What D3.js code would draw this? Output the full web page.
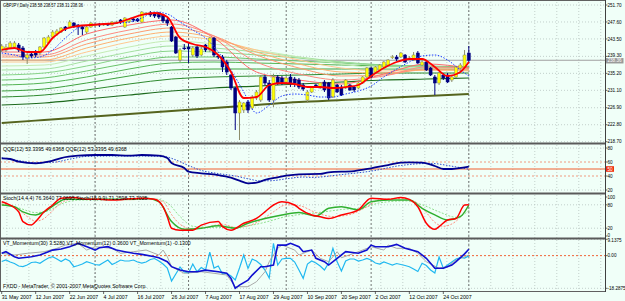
<!DOCTYPE html>
<html><head><meta charset="utf-8">
<script src="https://cdn.jsdelivr.net/npm/d3@7"></script>
<style>body{margin:0;background:#f0fff8}svg{display:block}text{font-family:"Liberation Sans",Arial,sans-serif}</style>
</head><body><svg id="c" width="625" height="301"></svg>
<script>
// ---------------- DATA ----------------
const dateLabels=["31 May 2007","12 Jun 2007","22 Jun 2007","4 Jul 2007","16 Jul 2007","26 Jul 2007","7 Aug 2007","17 Aug 2007","29 Aug 2007","10 Sep 2007","20 Sep 2007","2 Oct 2007","12 Oct 2007","24 Oct 2007"];
const dateLabelBars=[0,8,16,24,32,40,48,56,64,72,80,88,96,104];
const monthStartBars=[22,44,67,87,110];
const priceTicks=[251.70,247.60,243.50,239.30,235.20,231.10,226.90,222.80,218.70];
const lastPrice=238.36;
const openP=[240.84,240.84,241.32,241.56,242.04,241.32,238.90,239.87,240.11,240.11,241.56,242.53,243.97,244.70,245.18,246.39,246.39,247.35,246.87,246.39,245.18,246.39,246.87,247.11,246.87,247.11,246.87,247.35,248.08,246.39,247.60,248.32,248.32,247.60,249.53,249.77,249.53,249.77,249.29,248.08,246.39,243.97,238.42,241.32,241.56,239.63,241.56,239.63,242.04,240.84,243.73,239.39,239.15,237.94,234.80,231.66,225.63,226.35,228.28,226.83,229.25,228.76,234.32,232.87,228.76,234.32,234.08,233.11,234.32,233.83,233.59,232.39,228.76,230.70,232.39,231.66,233.11,232.87,229.49,232.39,231.90,231.66,232.39,231.90,231.66,232.87,234.32,236.49,235.52,236.01,236.73,237.21,239.15,239.15,239.15,239.63,238.90,238.42,240.11,237.21,237.94,236.49,234.32,232.87,234.80,234.80,233.59,234.32,236.49,236.73,240.11];
const highP=[242.28,242.28,243.01,243.01,242.53,241.80,240.11,240.35,240.84,241.80,243.97,244.46,245.66,245.91,246.39,246.63,248.08,247.60,247.11,246.63,246.63,247.60,247.11,247.35,247.35,247.35,247.84,247.84,248.32,248.80,248.32,248.56,248.56,250.25,250.01,250.25,249.77,250.01,249.53,248.56,246.63,244.22,241.32,242.28,242.53,241.80,241.80,241.56,242.28,243.97,243.97,239.63,239.63,238.42,235.04,231.90,228.76,228.28,228.76,229.97,231.18,234.80,234.80,233.59,235.04,234.80,234.56,234.56,235.04,234.32,234.08,232.87,231.18,232.14,232.63,233.11,233.59,233.11,234.08,232.63,232.39,233.83,232.63,232.14,233.11,234.56,236.73,236.73,236.97,237.46,238.18,238.66,239.63,239.63,240.35,239.87,239.39,240.35,240.59,238.90,238.42,236.73,234.80,235.52,235.28,235.28,234.56,236.97,237.70,240.84,241.80];
const lowP=[240.35,240.35,241.08,241.32,240.35,238.42,237.46,238.90,239.15,239.63,241.32,242.28,243.73,244.22,244.94,245.42,246.15,246.15,244.46,244.46,244.70,246.15,246.63,246.39,246.63,246.63,246.63,247.11,247.11,246.15,247.35,247.60,247.60,247.35,249.29,248.80,248.56,248.32,247.35,246.63,242.77,239.87,237.94,240.84,237.70,239.15,238.90,239.39,240.35,240.35,239.15,238.66,235.52,234.80,231.18,221.52,219.11,225.63,225.63,226.35,228.76,228.28,232.39,228.28,227.07,232.39,232.39,232.63,231.90,231.90,231.42,230.94,228.04,230.45,231.66,231.42,230.70,228.76,229.25,230.45,229.73,231.42,230.94,230.70,231.42,232.63,234.08,234.08,235.28,235.77,236.49,236.97,238.66,238.18,238.90,237.70,238.42,238.18,237.46,236.97,235.77,234.56,229.97,232.39,233.59,232.87,233.11,234.08,236.25,236.49,237.70];
const closeP=[241.80,241.56,242.53,242.53,240.84,239.15,239.63,239.39,239.63,241.56,243.73,243.97,245.18,245.42,246.15,245.91,247.60,246.63,246.39,245.91,246.39,247.35,246.90,246.87,247.11,246.87,247.60,247.60,247.60,248.56,248.08,248.08,247.84,250.01,249.77,249.29,249.04,248.80,247.84,247.35,243.01,240.11,240.84,241.30,241.08,241.32,239.39,241.08,240.84,243.73,239.63,239.15,236.73,235.52,231.66,225.63,228.28,228.04,226.35,229.49,230.70,234.32,232.87,228.76,234.32,232.87,233.11,234.08,232.87,232.87,231.90,231.42,230.70,231.90,231.90,232.87,231.18,229.25,233.59,230.70,229.97,233.59,231.18,231.18,232.87,234.32,236.49,234.32,236.73,237.21,237.94,238.42,239.17,238.66,240.11,237.94,238.92,239.63,237.70,237.94,236.01,234.80,232.87,235.28,234.08,233.11,234.32,236.73,237.21,239.63,238.36];

// moving-average ribbon, read at every 10th bar
const maBars=[0,10,20,30,40,50,60,70,80,90,100,110];
const ma2=[240.35,240.35,244.70,246.87,248.08,243.73,235.52,233.59,232.63,235.04,237.46,236.49];
const ma3=[239.63,239.63,243.25,245.66,247.11,244.22,237.94,235.04,233.59,234.56,236.73,236.49];
const ma4=[239.15,239.15,242.28,244.70,246.15,244.22,239.63,236.49,234.56,234.80,236.25,236.25];
const ma5=[238.42,238.42,241.32,243.73,245.18,243.73,240.35,237.46,235.52,235.28,236.01,236.01];
const ma6=[237.94,237.94,240.35,242.77,244.22,243.25,240.84,238.42,236.49,235.77,236.01,235.77];
const ma7=[236.97,237.21,239.39,241.56,243.01,242.28,240.84,239.15,237.46,236.49,236.49,236.01];
const ma8=[236.01,236.25,238.18,240.35,241.80,241.32,240.35,239.15,237.94,236.97,236.73,236.25];
const ma9=[234.80,235.28,236.97,239.15,240.59,240.35,239.63,238.90,237.94,237.21,236.97,236.49];
const ma10=[233.59,234.08,235.77,237.70,239.15,239.15,238.66,238.18,237.70,237.21,236.97,236.73];
const ma11=[232.39,232.87,234.32,236.25,237.70,237.94,237.70,237.46,237.21,236.97,236.73,236.73];
const ma12=[230.94,231.42,232.87,234.56,236.01,236.25,236.25,236.25,236.25,236.25,236.25,236.01];
const ma13=[229.49,229.97,231.18,232.63,233.83,234.32,234.56,234.80,235.04,235.28,235.28,235.28];
const ma14=[227.56,228.04,229.01,229.97,230.94,231.66,232.14,232.63,233.11,233.59,233.83,234.08];
const ma15=[223.21,223.94,224.66,225.39,226.11,226.83,227.56,228.28,228.76,229.25,229.73,230.21];
// fast red average and blue dotted average, read at every 3rd bar
const fastBars=[0,3,6,9,12,15,18,21,24,27,30,33,36,39,42,45,48,51,54,57,60,63,66,69,72,75,78,81,84,87,90,93,96,99,102,105,108,110];
const fastMA=[240.84,241.32,240.35,240.35,243.73,245.91,246.63,246.87,247.11,247.35,248.32,249.29,249.77,248.80,243.73,242.28,241.56,239.63,235.52,229.25,229.49,232.39,232.87,232.63,231.90,231.90,231.66,231.90,232.39,234.56,236.49,237.94,238.66,238.66,236.73,234.56,235.52,237.94];
const dotMA=[240.11,239.63,238.90,239.15,240.84,243.73,246.15,246.87,247.11,247.35,247.60,248.56,250.01,249.53,247.60,245.66,243.73,240.35,236.01,230.70,225.63,227.50,229.73,230.21,229.97,229.49,229.49,230.21,230.94,232.14,234.32,236.25,237.94,239.39,239.63,238.42,236.01,234.56];

// QQE
const qqeBars=[0,2,4,8,11,14,18,22,26,30,33,37,39,40,43,44,47,51,54,56,58,60,62,65,67,70,75,77,83,87,91,94,96,99,102,104,106,109,110];
const qqeMain=[65.3,64.3,60.4,58.1,60.4,65.7,69,70,70,69,70,69,65.7,58.6,51.4,46.1,43.9,41.4,37.6,33.3,29.6,30.4,34.3,38.1,40.4,42.4,42.9,45.3,47.1,51,55.7,59,59.6,59,54.3,50,50,52.4,53.34];
const qqeSigBars=[0,4,8,12,16,20,26,32,38,41,44,47,51,55,58,61,64,67,71,73,80,87,94,101,106,110];
const qqeSignal=[66,62,59,59.5,64,68,68.5,68.5,68,63,55,48,43.5,40,36,33,33.5,36,38.5,38,42,47,55,58,54,49.64];

// Stochastics
const stFastBars=[0,1,4,5,7,8,10,12,14,17,20,23,26,29,33,36,38,39,40,42,45,47,51,52,54,57,60,62,64,66,69,70,73,75,77,80,84,87,91,94,96,98,100,102,103,105,107,109,110];
const stFast=[88,84,62,37,28,37,62,79.5,97,99,94,94,92,94,97,94,75,49.5,20,15,15,28,37,24,15,32.6,45,62,79.5,88,79.5,71,54,49.5,45,54,67,97,94,99,94,75,32.6,17,24,41,45,79.5,80];
const stFastSigBars=[0,3,6,8,10,12,14,17,22,30,35,38,40,42,45,48,52,55,58,61,64,67,70,74,78,82,86,89,94,97,100,102,104,107,110];
const stFastSig=[82,75,50,38,45,65,85,95,94,93,95,88,55,30,18,22,30,22,26,40,62,80,78,60,50,55,75,93,96,90,60,35,25,38,77];
const stSlowBars=[0,3,5,8,10,13,15,20,30,34,37,40,43,47,51,55,58,62,66,70,74,77,80,84,87,91,96,99,102,105,108,110];
const stSlow=[79.5,75,62,54,62,84,94,94,94,97,88,37,17,20,26,20,32.6,45,54,60,51,71,75,67,88,92,92,71,54,41,49.5,79.5];
const stSlowSigBars=[0,4,8,11,14,18,30,36,39,42,45,50,55,59,63,67,71,76,80,85,89,95,99,103,107,110];
const stSlowSig=[82,72,60,65,82,92,93,95,85,50,25,22,22,28,38,50,56,62,68,72,85,90,80,62,48,65];

// VT momentum
const vt30Bars=[0,1,3,4,7,9,11,12,14,16,18,19,21,22,23,25,27,29,31,33,36,37,39,40,42,44,46,48,51,53,54,55,56,58,59,61,62,64,65,67,68,70,71,73,74,76,77,79,81,84,86,87,88,91,93,95,98,100,102,104,106,107,109,110];
const vt30=[1.3,2.2,-0.6,-1.5,-0.6,0.3,2.2,3.1,3.7,5.0,6.9,5.9,4.1,3.1,4.4,5.0,3.1,2.2,1.3,0.7,-0.6,-1.2,-3.4,-6.2,-8.1,-9.0,-9.0,-8.1,-9.0,-9.9,-12.7,-18.3,-16.5,-13.7,-10.9,-6.2,-6.2,-5.3,5.9,5.9,6.9,5.0,2.2,3.1,-1.5,-3.4,-5.3,-1.5,2.2,1.3,3.1,5.9,5.0,5.0,6.3,4.1,2.2,-1.5,-7.1,-7.1,-5.3,-3.4,1.0,3.53];
const vt12Bars=[0,3,6,10,13,15,18,20,22,26,28,31,34,37,38,39,40,43,47,50,53,55,58,60,62,63,65,66,69,70,73,75,77,79,80,83,85,87,90,91,93,96,98,100,103,105,107,109,110];
const vt12=[1.29,0.34,1.29,2.18,4.09,5.93,6.88,3.13,4.98,4.09,1.29,2.18,3.13,0.34,3.13,-0.62,-6.21,-9.9,-9.01,-9.9,-10.86,-17.4,-17.4,-14.6,-9.01,-3.41,4.09,5.93,3.13,0.34,3.13,-1.51,-3.41,2.18,-1.18,1.29,3.13,4.98,3.13,5.93,4.09,4.09,1.29,-3.41,-7.11,-6.21,-2.46,-0.62,0.36];
const vt1=[-3.3,-2.46,-3.58,-4.42,-5.82,-6.1,-5.26,-3.86,-3.58,-4.31,-2.74,-1.34,-0.62,-1.9,-3.3,-1.9,-3.02,-6.21,-5.54,-4.7,-3.41,-4.14,-4.98,-5.26,-3.86,-2.46,-4.98,-3.86,-2.46,-3.02,-3.02,-2.46,-3.58,-4.14,-3.58,-2.18,-1.62,-3.02,-4.7,-6.94,-14.21,-10.3,-6.38,-9.18,-9.74,-4.7,-9.01,-6.66,-8.06,2.01,-6.94,-5.82,-10.3,-9.9,-11.42,-13.65,-6.94,0.34,-7.11,-1.9,-3.02,-4.98,-8.06,-12.54,6.88,-5.26,-1.9,-1.51,-1.51,-3.58,-8.06,-12.7,-4.7,-3.02,-4.14,-5.82,-8.06,-4.14,4.09,-3.41,-8.62,-3.02,-1.9,-1.9,-3.02,-2.46,-1.51,-2.46,-4.14,-4.7,-3.58,-4.42,-5.26,-4.42,-4.98,-5.54,-6.21,-7.5,-8.9,-4.31,-5.54,-8.06,-9.74,-0.78,-7.11,-5.26,-3.58,-1.9,-1.06,-1.34,-0.13];

// ---------------- DRAW ----------------
const svg=d3.select("#c");
const BG="#f0fff8", R=605;
svg.append("rect").attr("width",625).attr("height",301).attr("fill",BG);

const x=d3.scaleLinear().domain([0,110]).range([1.7,468.8]);
const yM=d3.scaleLinear().domain([218.7,251.7]).range([141.7,5]);
const yQ=d3.scaleLinear().domain([20,80]).range([190,148]);
const yS=d3.scaleLinear().domain([0,100]).range([236,197]);
const yV=d3.scaleLinear().domain([-18.2875,9.1375]).range([288.3,239.3]);

const panels=[{id:"pm",y0:2,y1:143},{id:"pq",y0:145,y1:193},{id:"ps",y0:195,y1:238},{id:"pv",y0:240,y1:291}];
const defs=svg.append("defs");
panels.forEach(p=>defs.append("clipPath").attr("id",p.id).append("rect").attr("x",0).attr("y",p.y0).attr("width",R).attr("height",p.y1-p.y0));

const grid="#b8c4c0";
const g=svg.append("g");
panels.forEach(p=>{
  const gp=g.append("g").attr("clip-path",`url(#${p.id})`);
  for(let v=monthStartBars[4]-Math.floor(110/5.18)*5.18; v<=142; v+=5.18){
    gp.append("line").attr("x1",x(v)).attr("x2",x(v)).attr("y1",p.y0).attr("y2",p.y1).attr("stroke",grid).attr("stroke-width",0.8).attr("stroke-dasharray","1,2");
  }
  monthStartBars.forEach(b=>gp.append("line").attr("x1",x(b)).attr("x2",x(b)).attr("y1",p.y0).attr("y2",p.y1).attr("stroke","#555").attr("stroke-width",0.8).attr("stroke-dasharray","2,2"));
});
priceTicks.forEach(t=>g.append("line").attr("x1",0).attr("x2",R).attr("y1",yM(t)).attr("y2",yM(t)).attr("stroke",grid).attr("stroke-width",0.8).attr("stroke-dasharray","1,2"));
[80,20].forEach(t=>g.append("line").attr("x1",0).attr("x2",R).attr("y1",yQ(t)).attr("y2",yQ(t)).attr("stroke",grid).attr("stroke-width",0.8).attr("stroke-dasharray","1,2"));
[80,20].forEach(t=>g.append("line").attr("x1",0).attr("x2",R).attr("y1",yS(t)).attr("y2",yS(t)).attr("stroke",grid).attr("stroke-width",0.8).attr("stroke-dasharray","1,2"));
[9.1375,-18.2875].forEach(t=>g.append("line").attr("x1",0).attr("x2",R).attr("y1",yV(t)).attr("y2",yV(t)).attr("stroke",grid).attr("stroke-width",0.8).attr("stroke-dasharray","1,2"));

g.append("line").attr("x1",0).attr("x2",R).attr("y1",yQ(50)).attr("y2",yQ(50)).attr("stroke","#f06030").attr("stroke-width",1.2);
[60,40].forEach(t=>g.append("line").attr("x1",0).attr("x2",R).attr("y1",yQ(t)).attr("y2",yQ(t)).attr("stroke","#f08060").attr("stroke-width",0.8).attr("stroke-dasharray","2,2"));
g.append("line").attr("x1",0).attr("x2",R).attr("y1",yV(0)).attr("y2",yV(0)).attr("stroke","#f05020").attr("stroke-width",0.9).attr("stroke-dasharray","2,2");
g.append("line").attr("x1",0).attr("x2",R).attr("y1",yM(lastPrice)).attr("y2",yM(lastPrice)).attr("stroke","#a0a0a0").attr("stroke-width",1);

// ---- main panel ----
const gm=svg.append("g").attr("clip-path","url(#pm)");
const lineXY=(xs,ys,ysc,curve)=>d3.line().x((d,i)=>x(xs[i])).y((d,i)=>ysc(ys[i])).curve(curve||d3.curveMonotoneX)(ys);
const ribbon=[[ma15,"#55641e",2],[ma14,"#1d6a1d",1.2],[ma13,"#2f8a2f",1],[ma12,"#3fa03f",1],[ma11,"#55b455",1],[ma10,"#6cc46c",1],[ma9,"#88d488",1],[ma8,"#a4e0a0",1],[ma7,"#c4ecb4",1],[ma6,"#ffc890",1],[ma5,"#ffb070",1],[ma4,"#ff9a70",1],[ma3,"#ff8a80",1],[ma2,"#ff6a6a",1]];
ribbon.forEach(([arr,c,w])=>gm.append("path").attr("d",lineXY(maBars,arr,yM)).attr("fill","none").attr("stroke",c).attr("stroke-width",w));

const bw=3;
closeP.forEach((c,i)=>{
  const o=openP[i],h=highP[i],l=lowP[i],up=c>=o;
  const stroke=up?"#8c8c6a":"#000080";
  gm.append("line").attr("x1",x(i)).attr("x2",x(i)).attr("y1",yM(h)).attr("y2",yM(l)).attr("stroke",stroke).attr("stroke-width",1);
  const top=yM(Math.max(o,c)),bot=yM(Math.min(o,c));
  gm.append("rect").attr("x",x(i)-bw/2).attr("y",top).attr("width",bw).attr("height",Math.max(0.8,bot-top))
    .attr("fill",up?"#ffff00":"#000080").attr("stroke",stroke).attr("stroke-width",0.5);
});
gm.append("path").attr("d",lineXY(fastBars,dotMA,yM)).attr("fill","none").attr("stroke","#2040ff").attr("stroke-width",1).attr("stroke-dasharray","1.5,1.5");
gm.append("path").attr("d",lineXY(fastBars,fastMA,yM)).attr("fill","none").attr("stroke","#ff0000").attr("stroke-width",1.8);

// ---- QQE ----
const gq=svg.append("g").attr("clip-path","url(#pq)");
gq.append("path").attr("d",lineXY(qqeSigBars,qqeSignal,yQ)).attr("fill","none").attr("stroke","#3050d0").attr("stroke-width",1).attr("stroke-dasharray","1.5,1.5");
gq.append("path").attr("d",lineXY(qqeBars,qqeMain,yQ)).attr("fill","none").attr("stroke","#000090").attr("stroke-width",1.8);

// ---- Stoch ----
const gs=svg.append("g").attr("clip-path","url(#ps)");
gs.append("path").attr("d",lineXY(stSlowSigBars,stSlowSig,yS)).attr("fill","none").attr("stroke","#90e090").attr("stroke-width",1).attr("stroke-dasharray","2,1.5");
gs.append("path").attr("d",lineXY(stFastSigBars,stFastSig,yS)).attr("fill","none").attr("stroke","#ff9080").attr("stroke-width",1).attr("stroke-dasharray","2,1.5");
gs.append("path").attr("d",lineXY(stSlowBars,stSlow,yS)).attr("fill","none").attr("stroke","#30b030").attr("stroke-width",1.5);
gs.append("path").attr("d",lineXY(stFastBars,stFast,yS)).attr("fill","none").attr("stroke","#ff0000").attr("stroke-width",1.5);

// ---- VT ----
const gv=svg.append("g").attr("clip-path","url(#pv)");
gv.append("path").attr("d",d3.line().x((d,i)=>x(i)).y(d=>yV(d))(vt1)).attr("fill","none").attr("stroke","#20b8f0").attr("stroke-width",1.2);
gv.append("path").attr("d",d3.line().x((d,i)=>x(vt12Bars[i])).y(d=>yV(d))(vt12)).attr("fill","none").attr("stroke","#a0a0a0").attr("stroke-width",0.9);
gv.append("path").attr("d",d3.line().x((d,i)=>x(vt30Bars[i])).y(d=>yV(d))(vt30)).attr("fill","none").attr("stroke","#1010d0").attr("stroke-width",1.6);

// ---- frames ----
const fr=svg.append("g");
fr.append("rect").attr("x",0.5).attr("y",0.5).attr("width",R).attr("height",291).attr("fill","none").attr("stroke","#606060").attr("stroke-width",1);
[143.5,193.5,238.5].forEach(yy=>fr.append("line").attr("x1",0).attr("x2",R+1).attr("y1",yy).attr("y2",yy).attr("stroke","#5a5a5a").attr("stroke-width",2));
fr.append("line").attr("x1",R+0.5).attr("x2",R+0.5).attr("y1",0).attr("y2",292).attr("stroke","#404040").attr("stroke-width",1);

// ---- texts ----
const fs=5.2, afs=4.6;
const T=(xx,yy,s,opt={})=>{const t=svg.append("text").attr("x",xx).attr("y",yy).attr("font-size",opt.fs||fs).attr("fill",opt.fill||"#000").attr("text-anchor",opt.anchor||"start").text(s);
  if(opt.len) t.attr("textLength",opt.len).attr("lengthAdjust","spacingAndGlyphs"); return t;};
const axisTick=(yy)=>svg.append("line").attr("x1",R).attr("x2",R+2.5).attr("y1",yy).attr("y2",yy).attr("stroke","#404040").attr("stroke-width",0.8);
priceTicks.forEach(t=>{axisTick(yM(t));T(R+2.5,yM(t)+(t===239.30?0.8:1.7),t.toFixed(2),{fs:afs});});
svg.append("rect").attr("x",R+1).attr("y",yM(lastPrice)-2.2).attr("width",17.5).attr("height",5.4).attr("fill","#9a9a9a");
T(R+2.5,yM(lastPrice)+2.2,lastPrice.toFixed(2),{fs:afs,fill:"#fff"});
[80,60,40,20].forEach(t=>{axisTick(yQ(t));T(R+2.5,yQ(t)+1.7,String(t),{fs:afs});});
svg.append("rect").attr("x",R+1).attr("y",yQ(50)-2.8).attr("width",8).attr("height",5.6).attr("fill","#f03010");
T(R+2.5,yQ(50)+1.7,"50",{fs:afs,fill:"#fff"});
[[100,1.7],[80,1.7],[20,1.7],[0,0.8]].forEach(([t,d])=>{axisTick(yS(t));T(R+2.5,yS(t)+d,String(t),{fs:afs});});
[[9.1375,"9.1375",2.6],[0,"0.00",1.7],[-18.2875,"-18.2875",1.7]].forEach(([t,s,d])=>{axisTick(yV(t));T(R+2.5,yV(t)+d,s,{fs:afs});});
dateLabels.forEach((s,i)=>{
  svg.append("line").attr("x1",x(dateLabelBars[i])).attr("x2",x(dateLabelBars[i])).attr("y1",291).attr("y2",294).attr("stroke","#404040").attr("stroke-width",0.8);
  T(x(dateLabelBars[i]),299,s);
});
T(3,7,"GBPJPY,Daily  238.58 238.57 238.31 238.36",{len:80});
T(3,151,"QQE(12) 53.3395 49.6368  QQE(12) 53.3395 49.6368");
T(3,200,"Stoch(14,4,4) 76.3640 77.0695  Stoch(18,9,9) 71.2598 73.7025");
T(3,245,"VT_Momentum(30) 3.5280 VT_Momentum(12) 0.3600 VT_Momentum(1) -0.1300");
T(3,288,"FXDD - MetaTrader, © 2001-2007 MetaQuotes Software Corp.");
</script></body></html>
